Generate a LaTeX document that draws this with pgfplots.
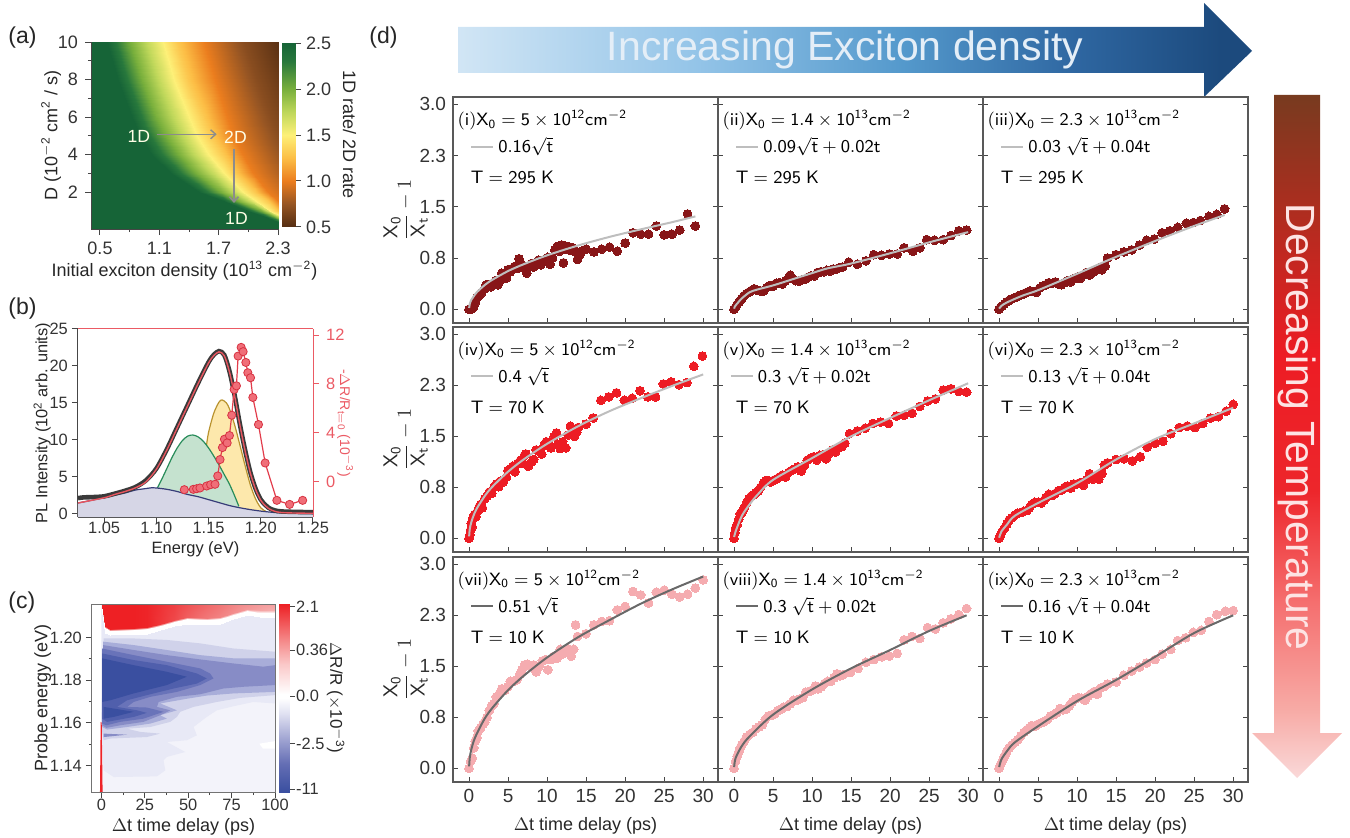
\documentclass[border=0pt]{standalone}
\usepackage{fontspec}
\setmainfont{Liberation Sans}
\usepackage{amsmath}
\usepackage{pgfplots}
\usetikzlibrary{arrows.meta}
\pgfplotsset{compat=1.18}
\definecolor{tk}{RGB}{70,70,70}
\definecolor{pk}{RGB}{235,90,100}
\definecolor{dk1}{RGB}{136,22,24}
\definecolor{dk2}{RGB}{237,28,36}
\definecolor{dk3}{RGB}{245,172,176}
\definecolor{fitl}{RGB}{190,190,190}
\definecolor{fitd}{RGB}{105,105,105}
\definecolor{lvA}{RGB}{232,233,246}
\definecolor{lvB}{RGB}{208,210,234}
\definecolor{lvC}{RGB}{168,173,217}
\definecolor{lvD}{RGB}{135,140,198}
\definecolor{lvE}{RGB}{105,115,185}
\definecolor{lvF}{RGB}{80,95,172}
\definecolor{lvG}{RGB}{58,79,160}
\pgfdeclarehorizontalshading{topgrad}{100bp}{rgb(0bp)=(0.82,0.90,0.96);rgb(25bp)=(0.82,0.90,0.96);rgb(40bp)=(0.58,0.77,0.91);rgb(53bp)=(0.33,0.60,0.80);rgb(64bp)=(0.18,0.40,0.63);rgb(73bp)=(0.11,0.29,0.49);rgb(100bp)=(0.11,0.29,0.49)}
\pgfdeclareverticalshading{sidegrad}{100bp}{rgb(0bp)=(0.98,0.85,0.85);rgb(25bp)=(0.98,0.85,0.85);rgb(30bp)=(0.97,0.67,0.65);rgb(38bp)=(0.96,0.43,0.43);rgb(46bp)=(0.93,0.15,0.17);rgb(56bp)=(0.93,0.11,0.14);rgb(67bp)=(0.67,0.18,0.12);rgb(75bp)=(0.47,0.23,0.12);rgb(100bp)=(0.47,0.23,0.12)}
\newcommand\fsm{\fontsize{8.2}{9}\selectfont}
\pgfplotsset{
 colormap={rate}{rgb255(0pt)=(84,45,18);rgb255(25pt)=(150,85,35);rgb255(50pt)=(235,125,30);rgb255(75pt)=(252,190,70);rgb255(100pt)=(253,240,120);rgb255(125pt)=(190,215,90);rgb255(150pt)=(120,175,60);rgb255(180pt)=(40,120,60);rgb255(200pt)=(22,100,55)},
 colormap={redw}{rgb255(0pt)=(255,255,255);rgb255(35pt)=(246,175,175);rgb255(60pt)=(241,120,120);rgb255(100pt)=(238,32,36)},
 colormap={cbar}{rgb255(0pt)=(58,79,160);rgb255(15pt)=(100,110,180);rgb255(26pt)=(150,155,205);rgb255(42pt)=(225,226,242);rgb255(50pt)=(255,255,255);rgb255(52pt)=(255,255,255);rgb255(68pt)=(250,200,200);rgb255(80pt)=(245,140,140);rgb255(100pt)=(237,32,36)},
 box/.code n args={4}{%
  \pgfmathsetlengthmacro\boxw{(#3-#1)*0.5pt}%
  \pgfmathsetlengthmacro\boxh{(#4-#2)*0.5pt}%
  \pgfmathsetlengthmacro\boxx{#1*0.5pt}%
  \pgfmathsetlengthmacro\boxy{(837-#4)*0.5pt}%
  \pgfplotsset{anchor=south west,scale only axis,width=\boxw,height=\boxh,at={(\boxx,\boxy)}}},
 every axis/.append style={font=\fontsize{9}{10}\selectfont,
   tick label style={text=black!80},label style={text=black!85},
   /pgf/number format/assume math mode=true},
 lpanel/.style={tick align=outside,axis line style={tk,-},tick style={tk,line width=.5pt},
   major tick length=3pt,minor tick length=1.6pt,line width=.5pt},
 dpanel/.style={xmin=-2.05,xmax=31.9,ymin=-.2,ymax=3.107,
   xtick={0,5,10,15,20,25,30},ytick={0,.75,1.5,2.25,3},
   xticklabels={},yticklabels={},tick align=inside,xtick pos=lower,ytick pos=both,
   tick label style={font=\fontsize{9.5}{10}\selectfont},
   major tick length=2.5pt,tick style={tk,line width=.5pt},axis line style={black!65,line width=.7pt},
   clip marker paths=true},
 xl/.style={xticklabels={0,5,10,15,20,25,30},xlabel={$\Delta$t time delay (ps)},xlabel style={yshift=-.5pt}},
 yl/.style={yticklabels={0.0,0.8,1.5,2.3,3.0},
   ylabel={\fontsize{10}{12}\selectfont$\dfrac{\mathsf{X_0}}{\mathsf{X_t}}-1$},ylabel style={yshift=-11pt}},
 dots1/.style={dk1,only marks,mark=*,mark size=2.2pt,mark options={fill=dk1,draw=dk1,line width=0pt}},
 dots2/.style={dk2,only marks,mark=*,mark size=2.2pt,mark options={fill=dk2,draw=dk2,line width=0pt}},
 dots3/.style={dk3,only marks,mark=*,mark size=2.2pt,mark options={fill=dk3,draw=dk3,line width=0pt}},
 fit1/.style={fitl,line width=1pt,smooth,no marks},
 fit3/.style={fitd,line width=1pt,smooth,no marks},
}
\newcommand\tname[1]{\node[anchor=west,inner sep=0,font=\fontsize{9}{11}\selectfont] at (axis cs:.2,1.93) {$\mathsf{T=#1\ K}$};}
\newcommand\fname[1]{\node[anchor=west,inner sep=0,font=\fontsize{9}{11}\selectfont] at (axis cs:3.7,2.38) {$\mathsf{#1}$};}
\newcommand\ttl[1]{\node[anchor=west,inner sep=0,font=\fontsize{8.9}{11}\selectfont] at (axis cs:-1.5,2.77) {$\mathsf{#1}$};}
\begin{document}
\begin{tikzpicture}[x=1pt,y=1pt]
\path[use as bounding box] (0,0) rectangle (675pt,418.5pt);
% panel letters
\node[font=\fontsize{11.5}{12}\selectfont,anchor=west,inner sep=0,text=black!85] at (4pt,399.5pt) {(a)};
\node[font=\fontsize{11.5}{12}\selectfont,anchor=west,inner sep=0,text=black!85] at (4pt,264pt) {(b)};
\node[font=\fontsize{11.5}{12}\selectfont,anchor=west,inner sep=0,text=black!85] at (4pt,117pt) {(c)};
\node[font=\fontsize{11.5}{12}\selectfont,anchor=west,inner sep=0,text=black!85] at (184.5pt,399.5pt) {(d)};
% big arrows
\path[shading=topgrad] (229pt,405pt) -- (602pt,405pt) -- (602pt,417pt) -- (626pt,393pt) -- (602pt,370pt) -- (602pt,382pt) -- (229pt,382pt) -- cycle;
\node[font=\fontsize{20.5}{22}\selectfont,text={rgb,255:red,228;green,238;blue,247}] at (422.5pt,393.5pt) {Increasing Exciton density};
\path[shading=sidegrad] (637pt,371pt) -- (660pt,371pt) -- (660pt,52pt) -- (671pt,52pt) -- (648.5pt,29.5pt) -- (626pt,52pt) -- (637pt,52pt) -- cycle;
\node[rotate=-90,font=\fontsize{20.4}{22}\selectfont,text={rgb,255:red,253;green,228;blue,228}] at (648.5pt,205pt) {Decreasing Temperature};

% ---------- (a)
\begin{axis}[box={91}{42}{278}{229},lpanel,axis on top,xmin=.409,xmax=2.3,ymin=.03,ymax=10,
 axis x line*=bottom,axis y line*=left,
 xtick={.5,1.1,1.7,2.3},xticklabels={0.5,1.1,1.7,2.3},minor x tick num=1,
 ytick={2,4,6,8,10},yticklabels={2,4,6,8,10},minor y tick num=1,
 colormap name=rate,point meta min=.5,point meta max=2.5,
 xlabel={Initial exciton density (10$^{\mathrm{13}}$ cm$^{\mathrm{-2}}$)},xlabel style={yshift=4pt},
 ylabel={D (10$^{\mathrm{-2}}$ cm$^{\mathrm{2}}$ / s)},ylabel style={yshift=-8.5pt}]
\addplot[surf,shader=interp,mesh/cols=9,point meta=explicit] table[x=n,y=D,meta=v]{
n D v
.3 10 2.5
.57 10 2.5
.80 10 2.0
1.0 10 1.7
1.14 10 1.5
1.28 10 1.3
1.55 10 1.0
1.95 10 .7
2.35 10 .5
.3 8 2.5
.68 8 2.5
.92 8 2.0
1.12 8 1.7
1.25 8 1.5
1.39 8 1.3
1.66 8 1.0
2.08 8 .7
2.5 8 .5
.3 6 2.5
.82 6 2.5
1.07 6 2.0
1.27 6 1.7
1.40 6 1.5
1.55 6 1.3
1.78 6 1.0
2.22 6 .7
2.65 6 .5
.3 5 2.5
.90 5 2.5
1.17 5 2.0
1.36 5 1.7
1.48 5 1.5
1.63 5 1.3
1.85 5 1.0
2.3 5 .7
2.75 5 .5
.3 4 2.5
1.03 4 2.5
1.30 4 2.0
1.48 4 1.7
1.60 4 1.5
1.75 4 1.3
1.95 4 1.0
2.4 4 .7
2.85 4 .5
.3 3 2.5
1.22 3 2.5
1.47 3 2.0
1.65 3 1.7
1.75 3 1.5
1.88 3 1.3
2.05 3 1.0
2.5 3 .7
3.0 3 .5
.3 2 2.5
1.5 2 2.5
1.72 2 2.0
1.87 2 1.7
1.95 2 1.5
2.07 2 1.3
2.2 2 1.0
2.65 2 .7
3.2 2 .5
.3 1.5 2.5
1.75 1.5 2.5
1.9 1.5 2.0
2.02 1.5 1.7
2.08 1.5 1.5
2.2 1.5 1.3
2.3 1.5 1.0
2.75 1.5 .7
3.3 1.5 .5
.3 1 2.5
2.0 1 2.5
2.14 1 2.0
2.2 1 1.7
2.22 1 1.5
2.3 1 1.3
2.45 1 1.0
2.9 1 .7
3.4 1 .5
.3 .7 2.5
2.15 .7 2.5
2.25 .7 2.0
2.3 .7 1.7
2.33 .7 1.5
2.42 .7 1.3
2.6 .7 1.0
3.0 .7 .7
3.5 .7 .5
.3 .4 2.5
2.3 .4 2.5
2.38 .4 2.0
2.44 .4 1.7
2.5 .4 1.5
2.6 .4 1.3
2.8 .4 1.0
3.2 .4 .7
3.7 .4 .5
.3 .03 2.5
2.6 .03 2.5
2.7 .03 2.0
2.78 .03 1.7
2.85 .03 1.5
3.0 .03 1.3
3.2 .03 1.0
3.6 .03 .7
4.0 .03 .5
};
\node[text=white!90!yellow,font=\fontsize{8.8}{10}\selectfont] at (axis cs:.894,4.99) {1D};
\node[text=white!90!yellow,font=\fontsize{8.8}{10}\selectfont] at (axis cs:1.87,4.92) {2D};
\node[text=white!90!yellow,font=\fontsize{8.8}{10}\selectfont] at (axis cs:1.88,.58) {1D};
\addplot[black!45,line width=.7pt,-{Straight Barb[length=2.5pt,width=4.5pt]}] coordinates {(1.073,5.08)(1.68,5.08)};
\addplot[black!45,line width=.8pt,-{Straight Barb[length=2.5pt,width=4.5pt]}] coordinates {(1.855,4.28)(1.855,1.42)};
\end{axis}
\begin{axis}[box={282}{43}{295}{227},lpanel,xmin=0,xmax=1,ymin=.5,ymax=2.5,axis x line=none,axis y line*=right,
 axis line style={draw=none},ytick={.5,1,1.5,2,2.5},yticklabels={0.5,1.0,1.5,2.0,2.5},yticklabel style={xshift=-1pt},
 colormap name=rate,point meta min=.5,point meta max=2.5,
 ylabel={1D rate/ 2D rate},ylabel style={rotate=180,yshift=-1pt}]
\addplot[surf,shader=interp,mesh/cols=2,point meta=explicit] table[x=x,y=y,meta=y]{
x y
0 .5
1 .5
0 2.5
1 2.5
};
\end{axis}

% ---------- (b)
\begin{axis}[box={78}{329}{313}{517},lpanel,xmin=1.025,xmax=1.25,ymin=-.45,ymax=25,
 axis x line*=bottom,axis y line*=left,
 tick label style={font=\fsm},label style={font=\fsm},
 xtick={1.05,1.10,1.15,1.20,1.25},xticklabels={1.05,1.10,1.15,1.20,1.25},xticklabel style={yshift=4pt},
 ytick={0,5,10,15,20,25},yticklabels={0,5,10,15,20,25},yticklabel style={xshift=1.5pt},
 xlabel={Energy (eV)},ylabel={PL Intensity (10$^{\mathrm{2}}$ arb. units)},ylabel style={yshift=-7.5pt},xlabel style={yshift=3pt}]
\addplot[draw=none,fill={rgb,255:red,253;green,232;blue,172}] coordinates {(1.148,9.2)(1.15,11)(1.155,13.6)(1.16,15.1)(1.163,15.4)(1.167,15.0)(1.17,14.2)(1.175,12)(1.18,9.3)(1.185,6.5)(1.19,3.9)(1.195,2)(1.2,.8)(1.205,.3)(1.205,0)(1.148,0)};
\addplot[draw={rgb,255:red,185;green,147;blue,47},line width=.6pt,smooth] coordinates {(1.148,9.2)(1.15,11)(1.155,13.6)(1.16,15.1)(1.163,15.4)(1.167,15.0)(1.17,14.2)(1.175,12)(1.18,9.3)(1.185,6.5)(1.19,3.9)(1.195,2)(1.2,.8)(1.205,.3)};
\addplot[draw=none,fill={rgb,255:red,197;green,226;blue,207}] coordinates {(1.101,3.48)(1.105,4.6)(1.11,6.1)(1.115,7.6)(1.12,8.9)(1.125,9.9)(1.13,10.5)(1.135,10.65)(1.14,10.4)(1.145,9.8)(1.15,8.9)(1.155,7.8)(1.16,6.6)(1.165,5.3)(1.17,4)(1.175,2.4)(1.179,1)(1.179,0)(1.101,0)};
\addplot[draw={rgb,255:red,40;green,140;blue,90},line width=.6pt,smooth] coordinates {(1.101,3.48)(1.105,4.6)(1.11,6.1)(1.115,7.6)(1.12,8.9)(1.125,9.9)(1.13,10.5)(1.135,10.65)(1.14,10.4)(1.145,9.8)(1.15,8.9)(1.155,7.8)(1.16,6.6)(1.165,5.3)(1.17,4)(1.175,2.4)(1.179,1)};
\addplot[draw=none,fill={rgb,255:red,214;green,214;blue,230}] coordinates {(1.025,1.45)(1.05,2.15)(1.06,2.5)(1.07,2.8)(1.08,3.2)(1.09,3.4)(1.095,3.5)(1.1,3.48)(1.11,3.3)(1.12,3)(1.13,2.6)(1.14,2.3)(1.15,1.9)(1.16,1.5)(1.17,1.1)(1.18,.8)(1.19,.55)(1.2,.35)(1.21,.2)(1.22,.1)(1.25,0)(1.25,-.45)(1.025,-.45)};
\addplot[draw={rgb,255:red,55;green,60;blue,120},line width=.6pt,smooth] coordinates {(1.025,1.45)(1.05,2.15)(1.06,2.5)(1.07,2.8)(1.08,3.2)(1.09,3.4)(1.095,3.5)(1.1,3.48)(1.11,3.3)(1.12,3)(1.13,2.6)(1.14,2.3)(1.15,1.9)(1.16,1.5)(1.17,1.1)(1.18,.8)(1.19,.55)(1.2,.35)(1.21,.2)(1.22,.1)(1.25,0)};
\addplot[draw={rgb,255:red,58;green,58;blue,58},line width=2.3pt,smooth] coordinates {(1.025,2.1)(1.03,2.2)(1.04,2.25)(1.05,2.35)(1.06,2.7)(1.07,3.1)(1.08,3.6)(1.09,4.5)(1.1,6.1)(1.11,8.7)(1.12,11.7)(1.13,14.7)(1.14,17.7)(1.15,20.5)(1.155,21.5)(1.16,22)(1.165,21.5)(1.17,19.3)(1.175,16)(1.18,12.1)(1.185,8.6)(1.19,5.6)(1.195,3.4)(1.2,1.9)(1.205,1.1)(1.21,.6)(1.22,.3)(1.25,.2)};
\addplot[draw={rgb,255:red,232;green,85;blue,95},line width=.7pt,smooth] coordinates {(1.025,1.45)(1.05,2.15)(1.06,2.6)(1.07,3)(1.08,3.5)(1.09,4.3)(1.1,6)(1.11,8.6)(1.12,11.6)(1.13,14.6)(1.14,17.6)(1.15,20.4)(1.155,21.4)(1.16,21.9)(1.165,21.4)(1.17,19.2)(1.175,15.9)(1.18,12)(1.185,8.5)(1.19,5.5)(1.195,3.3)(1.2,1.8)(1.205,1)(1.21,.5)(1.22,.15)(1.25,.05)};
\end{axis}
\begin{axis}[box={78}{329}{313}{517},lpanel,xmin=1.025,xmax=1.25,ymin=-2.86,ymax=12.49,
 axis x line*=top,axis y line*=right,axis line style={pk,-},tick style={pk,line width=.5pt},
 xtick=\empty,ytick={0,4,8,12},yticklabels={0,4,8,12},tick label style={text=pk,font=\fsm},label style={text=pk},
 ylabel={-$\Delta$R/R$_{\mathrm{t=0}}$ (10$^{\mathrm{-3}}$)},ylabel style={rotate=180,yshift=-10.5pt,font=\fontsize{7}{8}\selectfont}]
\addplot[draw={rgb,255:red,226;green,60;blue,75},line width=.6pt,mark=*,mark size=2.05pt,
 mark options={fill={rgb,255:red,240;green,110;blue,120},draw={rgb,255:red,215;green,50;blue,65},line width=.4pt}] coordinates {
(1.1268,-.63)(1.1354,-.6)(1.1386,-.55)(1.1418,-.49)(1.1482,-.33)(1.152,-.22)(1.1562,-.19)(1.1588,.49)(1.161,1.83)(1.1633,2.81)(1.1652,3.49)(1.1678,3.19)(1.17,3.79)(1.1722,5.45)(1.1745,7.55)(1.1767,7.85)(1.1783,10.28)(1.1812,10.99)(1.1831,10.64)(1.1857,9.76)(1.1876,8.92)(1.1902,8.51)(1.1924,6.9)(1.1978,4.69)(1.2042,1.55)(1.2154,-1.5)(1.2276,-1.83)(1.2401,-1.5)};
\end{axis}

% ---------- (c)
\begin{axis}[box={92}{604}{275}{792},lpanel,axis on top,xmin=-5.4,xmax=100,ymin=1.1277,ymax=1.2156,
 tick label style={font=\fsm},
 xtick={0,25,50,75,100},xticklabels={0,25,50,75,100},xticklabel style={yshift=3pt},minor x tick num=1,xtick pos=lower,
 ytick={1.14,1.16,1.18,1.20},yticklabels={1.14,1.16,1.18,1.20},yticklabel style={xshift=1.5pt},minor y tick num=1,ytick pos=left,
 axis line style={black!55,-},
 colormap name=redw,point meta min=0,point meta max=1,
 xlabel={$\Delta$t time delay (ps)},ylabel={Probe energy (eV)},xlabel style={yshift=3pt},ylabel style={yshift=-7.5pt}]
\addplot[draw=none,fill={rgb,255:red,243;green,243;blue,250}] coordinates {(-.5,1.1277)(100,1.1277)(100,1.2156)(-.5,1.2156)};
\addplot[draw=none,fill=white] coordinates {(91,1.1503)(100,1.1515)(100,1.148)(93,1.148)};
\addplot[draw=none,fill=lvA] coordinates {(.3,1.2144)(1.3,1.2081)(2.3,1.2042)(5.2,1.2031)(18.6,1.2034)(26.2,1.2038)(33.9,1.2053)(41.6,1.2073)(49.2,1.2084)(60.7,1.2081)(68.4,1.2084)(76,1.2105)(83.7,1.2125)(91.3,1.2116)(100,1.2116)(100,1.1691)(87.5,1.1698)(76.1,1.1678)(66.5,1.1659)(60.7,1.1628)(53.1,1.1581)(55,1.1542)(49.2,1.1519)(37.7,1.1511)(48.3,1.1464)(37.7,1.1441)(35.8,1.1425)(36.8,1.1378)(32,1.135)(7.1,1.1347)(1.3,1.1378)(0,1.1581)};
\addplot[draw=none,fill=lvB] coordinates {(1.3,1.1995)(18.6,1.1995)(37.7,1.1988)(56.9,1.1972)(76.1,1.1948)(100,1.1933)(100,1.173)(79.9,1.1717)(66.5,1.1698)(53.1,1.1675)(45.4,1.1652)(43.5,1.1628)(39.7,1.1605)(28.2,1.1581)(14.8,1.1573)(22.4,1.1558)(33.9,1.155)(26.2,1.1534)(5.2,1.1527)(1.3,1.1519)(0,1.1581)};
\addplot[draw=none,fill=lvC] coordinates {(1,1.198)(18.6,1.1964)(37.7,1.1941)(56.9,1.1917)(76.1,1.1902)(100,1.1902)(100,1.1745)(76.1,1.1738)(60.7,1.1728)(49.2,1.1713)(33.9,1.1691)(43.5,1.1659)(33.9,1.1636)(37.7,1.162)(28.2,1.1597)(14.8,1.1581)(3.3,1.1569)(.4,1.1581)};
\addplot[draw=none,fill=lvD] coordinates {(1.3,1.155)(14.8,1.1545)(1.3,1.1534)};
\addplot[draw=none,fill=lvD] coordinates {(1,1.1964)(18.6,1.1941)(37.7,1.1917)(56.9,1.1897)(76.1,1.1878)(93.3,1.1863)(100,1.187)(100,1.1777)(81.8,1.1769)(70.3,1.1761)(56.9,1.1734)(43.5,1.1722)(33,1.1698)(32,1.1675)(39.7,1.1659)(33.9,1.1636)(24.3,1.1605)(10.9,1.1589)(2.9,1.1577)(.4,1.1589)};
\addplot[draw=none,fill=lvE] coordinates {(.4,1.1948)(18.6,1.1917)(37.7,1.1886)(56.9,1.1855)(62.6,1.1831)(64.6,1.1808)(56.9,1.1777)(43.5,1.1745)(28.2,1.1722)(18.6,1.1698)(14.8,1.1675)(26.2,1.1672)(35.8,1.1652)(24.3,1.162)(10.9,1.1605)(2.9,1.1589)(.4,1.1597)};
\addplot[draw=none,fill=lvF] coordinates {(.4,1.1925)(18.6,1.1894)(37.7,1.187)(55,1.1831)(60.7,1.1808)(55,1.1784)(41.6,1.1761)(26.2,1.173)(14.8,1.1706)(9,1.1675)(20.5,1.1659)(26.2,1.1647)(18.6,1.1628)(3.3,1.1605)(.4,1.162)};
\addplot[draw=none,fill=lvG] coordinates {(.4,1.1902)(18.6,1.187)(37.7,1.1839)(49.2,1.1816)(37.7,1.1777)(18.6,1.1738)(5.2,1.1706)(.4,1.1698)};
\addplot[draw=none,fill=lvG] coordinates {(1.3,1.1675)(18.6,1.1652)(7.1,1.1628)(1.3,1.162)};
\addplot[surf,shader=interp,mesh/cols=15,point meta=explicit] table[x=t,y=E,meta=m]{
t E m
.5 1.2124 0
1.3 1.2061 0
2.3 1.2022 0
5.2 1.2011 0
18.6 1.2014 0
26.2 1.2018 0
33.9 1.2033 0
41.6 1.2053 0
49.2 1.2064 0
60.7 1.2061 0
68.4 1.2064 0
76 1.2085 0
83.7 1.2105 0
91.3 1.2096 0
100 1.2096 0
.5 1.2144 0
1.3 1.2081 0
2.3 1.2042 0
5.2 1.2031 0
18.6 1.2034 0
26.2 1.2038 0
33.9 1.2053 0
41.6 1.2073 0
49.2 1.2084 0
60.7 1.2081 0
68.4 1.2084 0
76 1.2105 0
83.7 1.2125 0
91.3 1.2116 0
100 1.2116 0
.5 1.2150 1
1.3 1.2091 1
2.3 1.2052 1
5.2 1.2041 1
18.6 1.2044 1
26.2 1.2048 .98
33.9 1.2063 .9
41.6 1.2083 .82
49.2 1.2094 .72
60.7 1.2091 .6
68.4 1.2094 .55
76 1.2115 .5
83.7 1.2135 .45
91.3 1.2126 .4
100 1.2126 .35
.5 1.2156 1
1.3 1.2156 1
2.3 1.2156 1
5.2 1.2156 1
18.6 1.2156 1
26.2 1.2156 .98
33.9 1.2156 .92
41.6 1.2156 .86
49.2 1.2156 .78
60.7 1.2156 .68
68.4 1.2156 .62
76 1.2156 .55
83.7 1.2156 .5
91.3 1.2156 .45
100 1.2156 .42
};
\addplot[draw=none,fill={rgb,255:red,238;green,35;blue,40}] coordinates {(-.8,1.1277)(.7,1.1277)(.2,1.16)(-.4,1.1605)};
\end{axis}
\begin{axis}[box={279}{604}{289}{792},lpanel,xmin=0,xmax=1,ymin=0,ymax=1,axis x line=none,axis y line*=right,
 tick label style={font=\fsm},yticklabel style={xshift=-3pt},
 axis line style={draw=none},ytick={.0142,.258,.51,.755,.986},yticklabels={-11,-2.5,0.0,0.36,2.1},
 colormap name=cbar,point meta min=0,point meta max=1,
 ylabel={$\Delta$R/R ($\times$10$^{\mathrm{-3}}$)},ylabel style={rotate=180,yshift=-7.5pt,font=\fontsize{8.5}{9}\selectfont}]
\addplot[surf,shader=interp,mesh/cols=2,point meta=explicit] table[x=x,y=y,meta=y]{
x y
0 0
1 0
0 1
1 1
};
\end{axis}

% ---------- (d) row 1
\begin{axis}[box={453}{97}{718}{323},dpanel,yl]
\addplot[dots1] coordinates {(0,0)(.2,0)(.4,.01)(.6,.04)(.8,.1)(1,.17)(1.3,.2)(1.6,.24)(2,.3)(2.2,.36)(2.5,.36)(2.8,.33)(3.1,.38)(3.4,.42)(3.7,.36)(4,.42)(4.2,.53)(4.5,.52)(4.8,.46)(5,.58)(5.3,.55)(5.6,.6)(5.9,.63)(6.2,.6)(6.4,.74)(6.6,.68)(6.9,.64)(7.1,.6)(7.4,.53)(7.7,.62)(8,.67)(8.3,.62)(8.6,.68)(8.9,.72)(9.2,.65)(9.5,.72)(9.8,.7)(10.1,.76)(10.4,.66)(10.7,.75)(11,.87)(11.3,.92)(11.6,.85)(11.9,.94)(12.1,.68)(12.4,.88)(12.7,.92)(13,.86)(13.3,.9)(13.6,.84)(13.9,.73)(14.2,.8)(14.4,.85)(15,.88)(16,.84)(17,.88)(18,.91)(19,.85)(20,.97)(21,1.12)(22,1.1)(23,1.1)(24,1.22)(25,1.09)(26,1.1)(27,1.16)(28,1.395)(29,1.22)};
\addplot[fit1] coordinates {(.02,.02)(.1,.08)(.3,.14)(.6,.19)(1,.25)(2,.354)(3,.433)(5,.56)(7,.66)(10,.79)(14,.935)(18,1.06)(22,1.17)(26,1.275)(29,1.36)};
\addplot[fitl,line width=1pt] coordinates {(.3,2.38)(3.1,2.38)};
\ttl{(i)X_0=5\times10^{12}cm^{-2}}
\fname{0.16\sqrt{t}}\tname{295}
\end{axis}
\begin{axis}[box={718}{97}{983}{323},dpanel]
\addplot[dots1] coordinates {(0,0)(.2,.03)(.4,.07)(.6,.1)(.8,.13)(1,.16)(1.3,.2)(1.6,.23)(1.9,.25)(2.3,.28)(2.6,.3)(3,.28)(3.4,.27)(3.8,.27)(4.2,.32)(4.6,.35)(5,.34)(5.4,.38)(5.8,.39)(6.2,.37)(6.6,.42)(7,.46)(7.2,.5)(7.5,.45)(7.9,.42)(8.3,.41)(8.7,.43)(9.1,.44)(9.5,.47)(9.9,.49)(10.3,.49)(10.7,.54)(11.1,.55)(11.5,.55)(11.9,.57)(12.3,.56)(12.7,.59)(13.1,.59)(13.5,.61)(13.9,.62)(14.7,.69)(15.8,.66)(16.9,.71)(17.9,.8)(18.9,.79)(19.9,.81)(20.9,.81)(21.8,.9)(22.9,.85)(23.8,.9)(24.7,1.02)(25.7,1.01)(26.8,1.02)(27.8,1.08)(28.8,1.15)(29.8,1.16)};
\addplot[fit1] coordinates {(.02,.01)(.1,.04)(.3,.07)(.6,.11)(1,.16)(2,.25)(3,.29)(5,.35)(7.5,.44)(10,.53)(12,.6)(15,.67)(20,.82)(25,.98)(30,1.13)};
\addplot[fitl,line width=1pt] coordinates {(.3,2.38)(3.1,2.38)};
\ttl{(ii)X_0=1.4\times10^{13}cm^{-2}}
\fname{0.09\sqrt{t}+0.02t}\tname{295}
\end{axis}
\begin{axis}[box={983}{97}{1248}{323},dpanel]
\addplot[dots1] coordinates {(0,0)(.2,.03)(.4,.05)(.7,.08)(1,.11)(1.3,.13)(1.6,.15)(2,.17)(2.4,.19)(2.8,.21)(3.2,.23)(3.6,.25)(4,.27)(4.4,.26)(4.8,.25)(5.2,.31)(5.6,.34)(6,.36)(6.4,.39)(6.8,.38)(7.2,.4)(7.6,.37)(8,.36)(8.4,.39)(8.8,.42)(9.2,.4)(9.6,.45)(10,.47)(10.4,.45)(10.8,.5)(11.2,.54)(11.6,.5)(12,.54)(12.4,.57)(12.8,.6)(13.2,.58)(13.6,.63)(13.9,.75)(15,.8)(16,.84)(17,.87)(18,.94)(18.9,1.01)(19.9,1.03)(20.9,1.12)(21.9,1.15)(22.9,1.2)(24,1.26)(24.9,1.27)(25.8,1.3)(26.9,1.36)(27.9,1.39)(28.9,1.47)};
\addplot[fit1] coordinates {(.02,.01)(.3,.05)(1,.1)(3,.2)(5,.28)(10,.52)(14,.72)(20,1)(25,1.22)(28.9,1.38)};
\addplot[fitl,line width=1pt] coordinates {(.3,2.38)(3.1,2.38)};
\ttl{(iii)X_0=2.3\times10^{13}cm^{-2}}
\fname{0.03\ \sqrt{t}+0.04t}\tname{295}
\end{axis}
% row 2
\begin{axis}[box={453}{327}{718}{552},dpanel,yl]
\addplot[dots2] coordinates {(0,0)(.1,.05)(.2,.12)(.3,.22)(.4,.17)(.5,.3)(.7,.35)(.9,.32)(1.1,.4)(1.3,.46)(1.5,.5)(1.7,.45)(2,.58)(2.3,.62)(2.6,.68)(2.9,.66)(3.2,.75)(3.5,.8)(3.8,.76)(4,.84)(4.4,.83)(4.8,.9)(5,1)(5.3,1.02)(5.6,1.06)(5.9,.98)(6.2,1.1)(6.6,1.15)(6.9,1.1)(7.1,1.22)(7.3,1.24)(7.6,1.06)(8,1.12)(8.3,1.16)(8.6,1.3)(9,1.28)(9.3,1.24)(9.6,1.36)(9.9,1.42)(10.2,1.4)(10.5,1.33)(10.9,1.5)(11.2,1.55)(11.4,1.38)(11.7,1.32)(12,1.42)(12.4,1.33)(12.7,1.52)(13,1.65)(13.2,1.55)(13.5,1.5)(13.8,1.56)(14,1.63)(15,1.68)(15.9,1.77)(16.9,2.03)(17.9,2.08)(18.9,2.14)(19.9,2.03)(20.9,2.06)(21.9,2.17)(22.9,2.08)(23.9,2.08)(24.9,2.27)(25.9,2.3)(26.9,2.26)(27.9,2.29)(28.8,2.53)(29.9,2.68)};
\addplot[fit1] coordinates {(.02,.03)(.1,.14)(.3,.24)(.6,.34)(1,.44)(2,.62)(3,.76)(5,.98)(7,1.16)(10,1.39)(14,1.65)(18,1.87)(22,2.06)(26,2.24)(30,2.41)};
\addplot[fitl,line width=1pt] coordinates {(.3,2.38)(3.1,2.38)};
\ttl{(iv)X_0=5\times10^{12}cm^{-2}}
\fname{0.4\ \sqrt{t}}\tname{70}
\end{axis}
\begin{axis}[box={718}{327}{983}{552},dpanel]
\addplot[dots2] coordinates {(0,0)(.1,.08)(.2,.15)(.4,.2)(.6,.28)(.8,.36)(1,.38)(1.3,.45)(1.6,.52)(1.9,.58)(2.2,.62)(2.5,.64)(2.8,.67)(3.1,.7)(3.4,.75)(3.8,.82)(4.1,.85)(4.4,.85)(4.7,.83)(5,.85)(5.4,.87)(5.8,.9)(6.2,.93)(6.6,.9)(7,.97)(7.4,1)(7.8,1.02)(8.2,1.05)(8.6,.99)(9,1.07)(9.4,1.15)(9.8,1.18)(10.2,1.2)(10.6,1.15)(11,1.22)(11.4,1.23)(11.8,1.17)(12.2,1.25)(12.6,1.3)(13,1.27)(13.4,1.33)(13.8,1.35)(14.2,1.4)(14.8,1.54)(15.8,1.58)(16.8,1.62)(17.8,1.69)(18.8,1.71)(19.8,1.69)(20.8,1.8)(21.8,1.81)(22.8,1.84)(23.8,1.94)(24.8,2.02)(25.8,2.05)(26.8,2.18)(27.8,2.2)(28.8,2.16)(29.8,2.15)};
\addplot[fit1] coordinates {(.02,.02)(.2,.1)(1,.33)(2,.5)(3,.64)(5,.86)(10,1.18)(15,1.5)(20,1.77)(25,2.03)(30,2.28)};
\addplot[fitl,line width=1pt] coordinates {(-.4,2.38)(2.4,2.38)};
\ttl{(v)X_0=1.4\times10^{13}cm^{-2}}
\node[anchor=west,inner sep=0,font=\fontsize{9}{11}\selectfont] at (axis cs:3,2.38) {$\mathsf{0.3\ \sqrt{t}+0.02t}$};\tname{70}
\end{axis}
\begin{axis}[box={983}{327}{1248}{552},dpanel]
\addplot[dots2] coordinates {(0,0)(.2,.05)(.4,.1)(.7,.15)(1,.21)(1.3,.27)(1.6,.3)(2,.34)(2.4,.37)(2.8,.38)(3.2,.4)(3.6,.41)(3.9,.45)(4.2,.5)(4.6,.53)(5,.53)(5.4,.52)(5.8,.56)(6,.6)(6.4,.65)(6.8,.63)(7.2,.66)(7.6,.7)(8,.71)(8.4,.75)(8.8,.77)(9.2,.74)(9.6,.8)(10,.8)(10.4,.82)(10.8,.78)(11.2,.86)(11.6,.95)(12,.87)(12.4,.92)(12.8,.87)(13.2,.95)(13.5,1.08)(13.9,1.11)(15,1.16)(16,1.17)(17.1,1.14)(18.1,1.2)(19,1.34)(20,1.4)(21,1.43)(22,1.54)(23.1,1.63)(24.1,1.65)(25.1,1.63)(26.1,1.69)(27.1,1.77)(28.1,1.79)(29.1,1.87)(30,1.97)};
\addplot[fit1] coordinates {(.02,.01)(.3,.1)(1,.2)(2,.33)(5,.52)(10,.81)(15,1.16)(20,1.46)(25,1.69)(30,1.92)};
\addplot[fitl,line width=1pt] coordinates {(.3,2.38)(3.1,2.38)};
\ttl{(vi)X_0=2.3\times10^{13}cm^{-2}}
\fname{0.13\ \sqrt{t}+0.04t}\tname{70}
\end{axis}
% row 3
\begin{axis}[box={453}{557}{718}{782},dpanel,yl,xl]
\addplot[dots3] coordinates {(0,0)(.2,.1)(.4,.15)(.6,.3)(.8,.4)(1,.45)(1.2,.55)(1.5,.6)(1.8,.65)(2,.68)(2.3,.75)(2.6,.85)(2.9,.92)(3.2,.95)(3.5,1.05)(3.9,1.1)(4.2,1.17)(4.6,1.15)(5,1.2)(5.3,1.28)(5.7,1.28)(6.1,1.3)(6.5,1.38)(6.8,1.45)(7.1,1.52)(7.5,1.53)(7.9,1.5)(8.3,1.52)(8.6,1.42)(9,1.5)(9.4,1.58)(9.8,1.6)(10.1,1.45)(10.5,1.6)(10.9,1.65)(11.3,1.62)(11.7,1.75)(12,1.68)(12.4,1.72)(12.8,1.75)(13.1,1.65)(13.4,1.75)(13.65,2.11)(13.9,1.94)(15,1.98)(16,2.11)(17,2.16)(18,2.17)(19,2.33)(20,2.38)(21,2.6)(22,2.55)(23,2.43)(24,2.59)(25,2.62)(26,2.56)(27,2.52)(28,2.56)(29,2.65)(30,2.77)};
\addplot[fit3] coordinates {(.02,.03)(.1,.16)(.3,.28)(.6,.4)(1,.51)(2,.73)(3,.89)(5,1.15)(7,1.36)(10,1.63)(14,1.93)(18,2.18)(22,2.42)(26,2.63)(30,2.82)};
\addplot[fitd,line width=1pt] coordinates {(.3,2.38)(3.1,2.38)};
\ttl{(vii)X_0=5\times10^{12}cm^{-2}}
\fname{0.51\ \sqrt{t}}\tname{10}
\end{axis}
\begin{axis}[box={718}{557}{983}{782},dpanel,xl]
\addplot[dots3] coordinates {(0,0)(.2,.1)(.4,.18)(.6,.24)(.8,.3)(1,.35)(1.3,.4)(1.6,.46)(2,.5)(2.4,.53)(2.8,.58)(3.2,.61)(3.6,.64)(4,.72)(4.4,.77)(4.8,.78)(5.2,.8)(5.6,.85)(6,.87)(6.4,.9)(6.8,.91)(7.2,.95)(7.6,1)(8,1)(8.4,1.02)(8.8,1.04)(9.2,1.12)(9.6,1.13)(10,1.15)(10.4,1.21)(10.8,1.17)(11.2,1.2)(11.6,1.25)(12,1.28)(12.4,1.28)(12.8,1.33)(13.2,1.39)(13.6,1.36)(14,1.38)(14.9,1.41)(15.9,1.47)(16.9,1.56)(17.9,1.6)(18.9,1.64)(19.9,1.65)(20.9,1.69)(21.8,1.89)(22.8,1.94)(23.8,1.91)(24.8,2.07)(25.8,2.05)(26.8,2.14)(27.8,2.2)(28.8,2.26)(29.8,2.35)};
\addplot[fit3] coordinates {(.02,.02)(.2,.15)(1,.33)(2,.47)(5,.79)(10,1.16)(15,1.47)(20,1.74)(25,2.02)(29.8,2.25)};
\addplot[fitd,line width=1pt] coordinates {(.3,2.38)(3.1,2.38)};
\ttl{(viii)X_0=1.4\times10^{13}cm^{-2}}
\fname{0.3\ \sqrt{t}+0.02t}\tname{10}
\end{axis}
\begin{axis}[box={983}{557}{1248}{782},dpanel,xl]
\addplot[dots3] coordinates {(0,0)(.2,.06)(.4,.1)(.6,.16)(.8,.2)(1,.25)(1.3,.3)(1.6,.34)(2,.38)(2.4,.42)(2.8,.48)(3.2,.53)(3.6,.57)(3.9,.6)(4.2,.63)(4.6,.62)(5,.65)(5.4,.67)(5.8,.69)(6.2,.72)(6.6,.77)(7,.79)(7.4,.82)(7.8,.88)(8.2,.86)(8.6,.87)(9,.92)(9.4,.98)(9.8,1.02)(10.2,1.04)(10.6,1.03)(11,1)(11.4,1.06)(11.8,1.1)(12.2,1.13)(12.6,1.09)(13,1.18)(13.4,1.2)(13.9,1.24)(15,1.27)(16,1.37)(17,1.43)(18,1.49)(18.9,1.55)(20,1.6)(20.9,1.68)(22,1.75)(22.9,1.88)(23.9,1.92)(24.9,2)(25.9,2.03)(26.9,2.16)(27.9,2.26)(29,2.31)(30,2.32)};
\addplot[fit3] coordinates {(.02,.02)(.3,.13)(1,.25)(2,.38)(5,.62)(10,.99)(15,1.3)(20,1.64)(25,1.99)(30,2.25)};
\addplot[fitd,line width=1pt] coordinates {(.3,2.38)(3.1,2.38)};
\ttl{(ix)X_0=2.3\times10^{13}cm^{-2}}
\fname{0.16\ \sqrt{t}+0.04t}\tname{10}
\end{axis}
\end{tikzpicture}
\end{document}
